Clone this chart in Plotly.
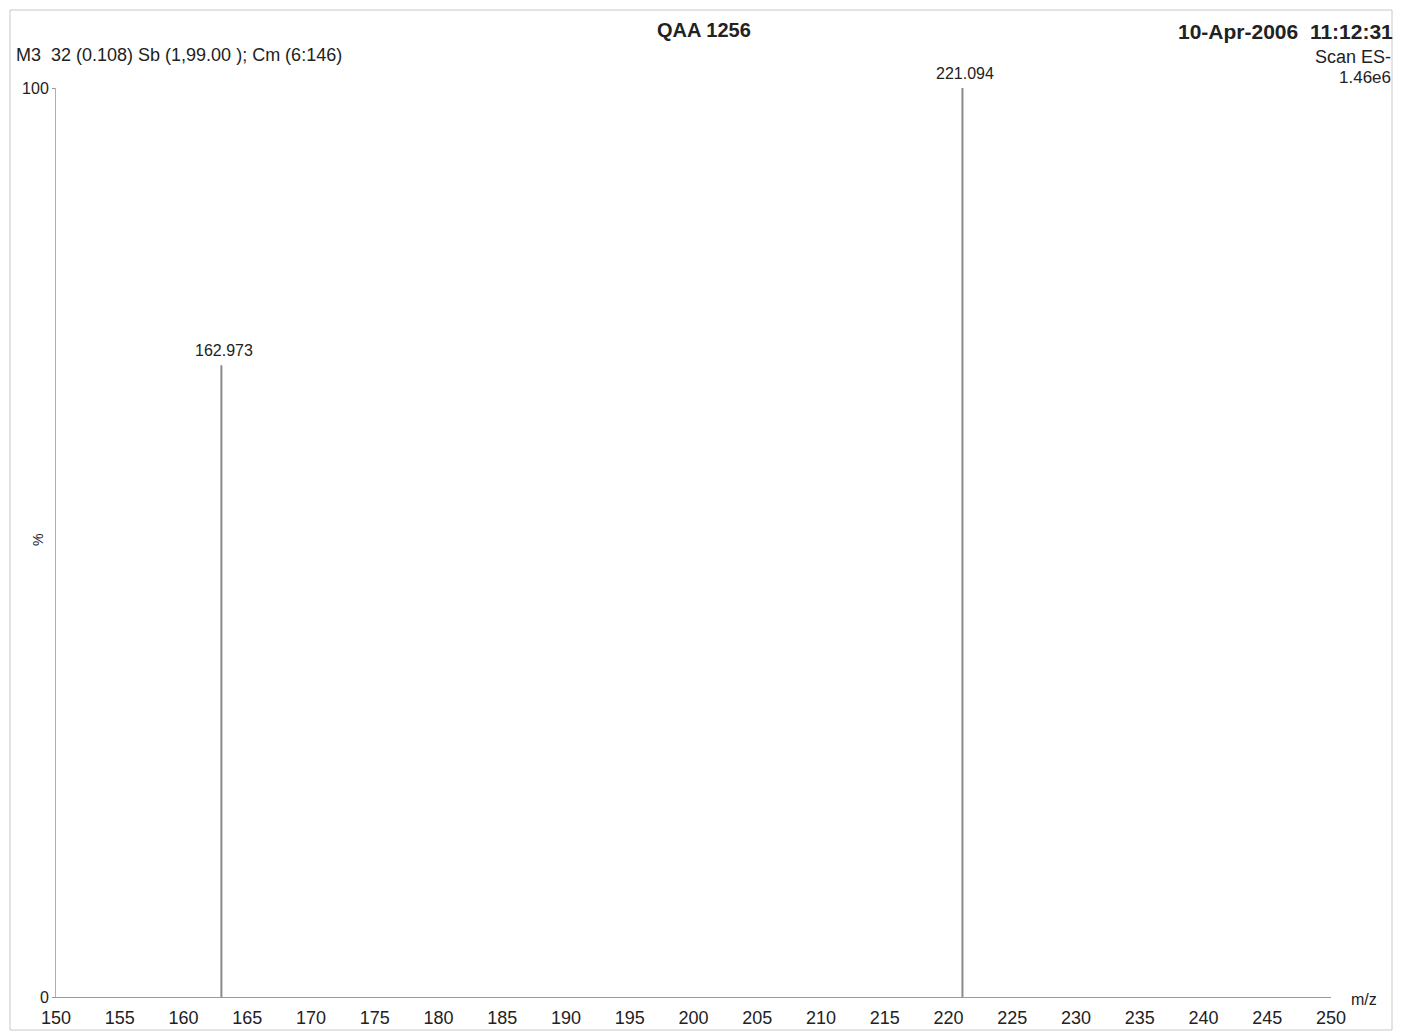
import plotly.graph_objects as go

# Data
mz = [162.973, 221.094]
intensity = [69.5, 100.0]
x_ticks = list(range(150, 251, 5))
y_ticks = [0, 100]

stem_x, stem_y = [], []
for m, i in zip(mz, intensity):
    stem_x += [m, m, None]
    stem_y += [0, i, None]

fig = go.Figure()
fig.add_trace(go.Scatter(x=stem_x, y=stem_y, mode="lines",
                         line=dict(color="#8a8a8a", width=2),
                         hoverinfo="skip", showlegend=False))

for m, i in zip(mz, intensity):
    fig.add_annotation(x=m, y=i, text=f"{m:.3f}", showarrow=False,
                       yanchor="bottom", yshift=4, xshift=3,
                       font=dict(size=16, color="#222"))

FONT = "Liberation Sans, Arial, sans-serif"
L, R, T, B = 56, 70, 88, 36
W, H = 1401, 1033
pw, ph = W - L - R, H - T - B

def px(xp):
    return (xp - L) / pw

def py(yp):
    return (H - B - yp) / ph

fig.update_layout(
    width=W, height=H,
    margin=dict(l=L, r=R, t=T, b=B, autoexpand=False),
    paper_bgcolor="white", plot_bgcolor="white",
    font=dict(family=FONT, color="#222"),
    xaxis=dict(range=[150, 250], tickvals=x_ticks, showgrid=False, automargin=False,
               zeroline=False, showline=True, linecolor="#9a9a9a", linewidth=1,
               ticks="", ticklabelstandoff=4, tickfont=dict(size=18, color="#222")),
    yaxis=dict(range=[0, 100], tickvals=y_ticks, showgrid=False, automargin=False,
               zeroline=False, showline=True, linecolor="#b0b0b0", linewidth=1,
               ticks="outside", ticklen=3, tickcolor="#999",
               tickfont=dict(size=16, color="#222")),
)

# Header texts
fig.add_annotation(xref="paper", yref="paper", x=px(14), y=py(55), xanchor="left",
                   yanchor="middle", showarrow=False,
                   text="M3  32 (0.108) Sb (1,99.00 ); Cm (6:146)",
                   font=dict(size=18, color="#222"))
fig.add_annotation(xref="paper", yref="paper", x=px(704), y=py(30), xanchor="center",
                   yanchor="middle", showarrow=False, text="<b>QAA 1256</b>",
                   font=dict(size=20, color="#222"))
fig.add_annotation(xref="paper", yref="paper", x=px(1395), y=py(31), xanchor="right",
                   yanchor="middle", showarrow=False,
                   text="<b>10-Apr-2006  11:12:31</b>",
                   font=dict(size=21, color="#222"))
fig.add_annotation(xref="paper", yref="paper", x=px(1393), y=py(57), xanchor="right",
                   yanchor="middle", showarrow=False, text="Scan ES-",
                   font=dict(size=18, color="#222"))
fig.add_annotation(xref="paper", yref="paper", x=px(1393), y=py(77), xanchor="right",
                   yanchor="middle", showarrow=False, text="1.46e6",
                   font=dict(size=17, color="#222"))
fig.add_annotation(xref="paper", yref="paper", x=px(38), y=py(540), xanchor="center",
                   yanchor="middle", showarrow=False, text="%", textangle=-90,
                   font=dict(size=14, color="#222"))
fig.add_annotation(xref="paper", yref="paper", x=px(1364), y=py(1000), xanchor="center",
                   yanchor="middle", showarrow=False, text="m/z",
                   font=dict(size=16, color="#222"))

# Outer frame
fig.add_shape(type="rect", xref="paper", yref="paper",
              x0=px(10), x1=px(1392), y0=py(1030), y1=py(10),
              line=dict(color="#c8c8c8", width=1))

fig.write_html("out.html")
